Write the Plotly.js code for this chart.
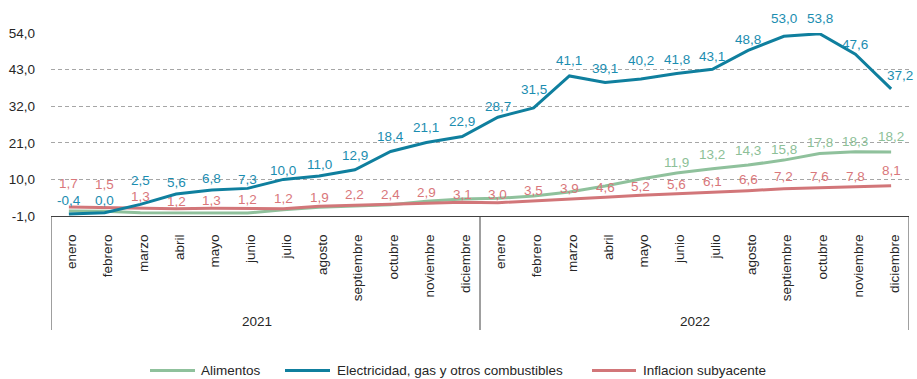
<!DOCTYPE html>
<html>
<head>
<meta charset="utf-8">
<script src="https://cdn.plot.ly/plotly-3.0.1.min.js"></script>
<style>
  html, body { margin: 0; padding: 0; background: #ffffff; }
  #chart { width: 917px; height: 379px; }
</style>
</head>
<body>
<div id="chart"></div>
<script>
// Periods (two levels on the x axis)
const years = ['2021', '2022'];
const months = ['enero', 'febrero', 'marzo', 'abril', 'mayo', 'junio', 'julio',
                'agosto', 'septiembre', 'octubre', 'noviembre', 'diciembre'];

// Year-on-year rates, %
const alimentos = [0.5, 0.4, 0.0, -0.1, -0.2, -0.1, 0.9, 1.6, 2.0, 2.4, 3.4, 4.1,
                   4.3, 5.0, 6.2, 8.0, 10.1, 11.9, 13.2, 14.3, 15.8, 17.8, 18.3, 18.2];
const electricidad = [-0.4, 0.0, 2.5, 5.6, 6.8, 7.3, 10.0, 11.0, 12.9, 18.4, 21.1, 22.9,
                      28.7, 31.5, 41.1, 39.1, 40.2, 41.8, 43.1, 48.8, 53.0, 53.8, 47.6, 37.2];
const subyacente = [1.7, 1.5, 1.3, 1.2, 1.3, 1.2, 1.2, 1.9, 2.2, 2.4, 2.9, 3.1,
                    3.0, 3.5, 3.9, 4.6, 5.2, 5.6, 6.1, 6.6, 7.2, 7.6, 7.8, 8.1];

// Y axis ticks
const yTicks = [-1, 10, 21, 32, 43, 54];

// Label placement: pixels above each point (null = no label)
const alimentosLift = [null, null, null, null, null, null, null, null, null, null, null, null,
                       null, null, null, null, null, 11, 14, 15, 11, 11, 10, 16];
const electricidadLift = [14, 12, 24, 12, 12, 9, 9, 12, 14, 15, 15, 15,
                          11, 18, 15, 14, 18, 14, 13, 11, 18, 15, 10, 13];
const subyacenteLift = [24, 23, 12, 7, 8, 9, 10, 9, 11, 10, 11, 8,
                        8, 11, 11, 10, 9, 10, 11, 11, 12, 11, 10, 15];

const FONT = '"Liberation Sans", Arial, Helvetica, sans-serif';
const TXT = '#262626';
const AXIS = '#404040';
const fmt = v => v.toFixed(1).replace('.', ',');

// One category per month; the month name is shown as tick text, the year below
const periods = [], monthText = [];
years.forEach(y => months.forEach(m => { periods.push(m + ' ' + y); monthText.push(m); }));

const series = [
  { name: 'Alimentos', values: alimentos, line: '#8fc19c', label: '#8dbf98', lift: alimentosLift },
  { name: 'Inflacion subyacente', values: subyacente, line: '#d27679', label: '#d9777b', lift: subyacenteLift },
  { name: 'Electricidad, gas y otros combustibles', values: electricidad, line: '#0f7f9e', label: '#1b8db0', lift: electricidadLift }
];

const traces = series.map(s => ({
  type: 'scatter',
  mode: 'lines',
  name: s.name,
  x: periods,
  y: s.values,
  line: { color: s.line, width: 3 },
  hoverinfo: 'skip',
  showlegend: false
}));

// Plot frame in pixels, used to place the legend and the year box
const W = 917, H = 379, M = { l: 51, r: 8, t: 33, b: 163 };
const plotW = W - M.l - M.r, plotH = H - M.t - M.b;
const px2x = px => (px - M.l) / plotW;
const py2y = py => (H - M.b - py) / plotH;

const annotations = [];
series.forEach(s => {
  s.values.forEach((v, i) => {
    if (s.lift[i] === null) return;
    annotations.push({
      xref: 'x', yref: 'y',
      x: periods[i], y: v,
      text: fmt(v),
      showarrow: false,
      xanchor: 'center', yanchor: 'middle',
      yshift: s.lift[i],
      xshift: (s.values === electricidad && i === s.values.length - 1) ? 9 : 0,
      font: { family: FONT, size: 13.5, color: s.label }
    });
  });
});

// Year labels under the month names
const boxBottom = py2y(330);
years.forEach((y, k) => {
  annotations.push({
    xref: 'x', yref: 'paper',
    x: k * months.length + (months.length - 1) / 2,
    y: py2y(321),
    xshift: k === 0 ? -9 : 0,
    text: y, showarrow: false,
    xanchor: 'center', yanchor: 'middle',
    font: { family: FONT, size: 13.5, color: TXT }
  });
});

// Vertical dividers framing each year
const shapes = [];
for (let k = 0; k <= years.length; k++) {
  shapes.push({
    type: 'line', xref: 'x', yref: 'paper',
    x0: k * months.length - 0.5, x1: k * months.length - 0.5,
    y0: 0, y1: boxBottom,
    line: { color: AXIS, width: 1 }
  });
}

// Legend row
const legendItems = [
  { s: series[0], x0: 150, x1: 195, tx: 199 },
  { s: series[2], x0: 285, x1: 330, tx: 335 },
  { s: series[1], x0: 592, x1: 636, tx: 641 }
];
const legY = py2y(370.5);
legendItems.forEach(it => {
  shapes.push({
    type: 'line', xref: 'paper', yref: 'paper',
    x0: px2x(it.x0), x1: px2x(it.x1), y0: legY, y1: legY,
    line: { color: it.s.line, width: 3 }
  });
  annotations.push({
    xref: 'paper', yref: 'paper',
    x: px2x(it.tx), y: legY,
    text: it.s.name, showarrow: false,
    xanchor: 'left', yanchor: 'middle',
    font: { family: FONT, size: 13.5, color: TXT }
  });
});

const layout = {
  width: W,
  height: H,
  margin: M,
  paper_bgcolor: '#ffffff',
  plot_bgcolor: '#ffffff',
  font: { family: FONT, size: 13.5, color: TXT },
  showlegend: false,
  xaxis: {
    type: 'category',
    range: [-0.5, periods.length - 0.5],
    tickvals: periods,
    ticktext: monthText,
    showline: true,
    linecolor: AXIS,
    linewidth: 1,
    showgrid: false,
    zeroline: false,
    ticks: '',
    tickangle: -90,
    tickfont: { family: FONT, size: 13.5, color: TXT },
    ticklabelstandoff: 12,
    ticklabelshift: 3,
    fixedrange: true
  },
  yaxis: {
    range: [-1, 54],
    tickvals: yTicks,
    ticktext: yTicks.map(fmt),
    showgrid: true,
    gridcolor: '#a6a6a6',
    griddash: '4px,3px',
    gridwidth: 1,
    zeroline: false,
    showline: false,
    ticks: '',
    ticklabelstandoff: 15,
    tickfont: { family: FONT, size: 13.5, color: TXT },
    fixedrange: true
  },
  shapes: shapes,
  annotations: annotations
};

Plotly.newPlot('chart', traces, layout, { staticPlot: true, displayModeBar: false });
</script>
</body>
</html>
